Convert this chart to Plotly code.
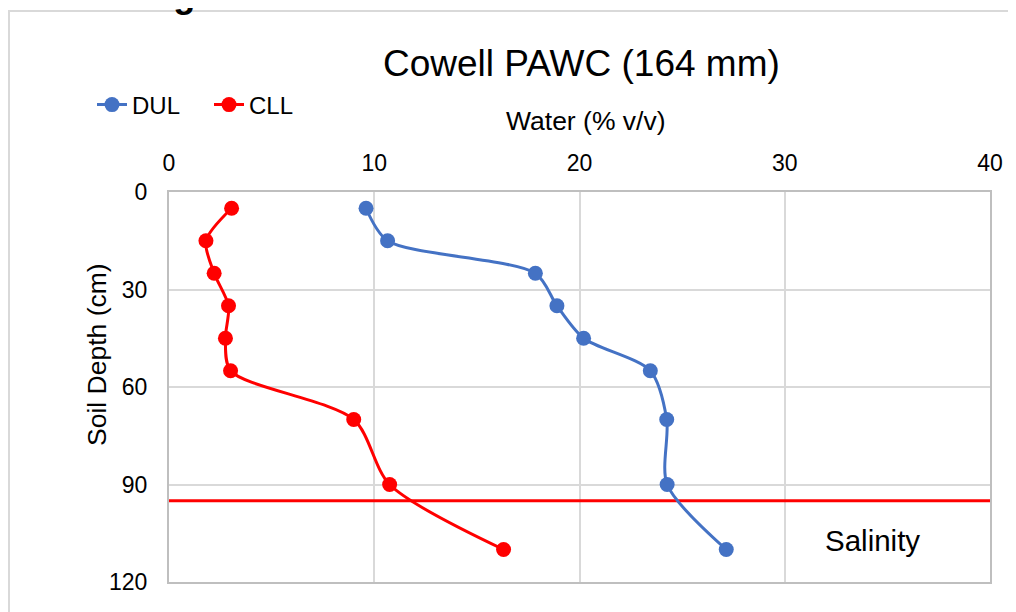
import plotly.graph_objects as go

# Soil depth (cm) of each sampled layer
depth = [5, 15, 25, 35, 45, 55, 70, 90, 110]

# Drained upper limit and crop lower limit, water % v/v
dul = [9.6, 10.65, 17.85, 18.9, 20.2, 23.45, 24.25, 24.27, 27.15]
cll = [3.05, 1.8, 2.2, 2.9, 2.75, 3.0, 9.0, 10.75, 16.3]

# Salinity limit line (depth in cm), drawn across the whole water range
salinity_x = [0, 40]
salinity_y = [95, 95]

x_ticks = [0, 10, 20, 30, 40]
y_ticks = [0, 30, 60, 90, 120]

FONT = "Liberation Sans, Arial, sans-serif"
BLUE = "#4472C4"
RED = "#FF0000"

# the page body adds an 8px margin, so the figure is drawn 8px smaller
OFF = 8
# plot area in screen pixels (used to place the free text)
L, R, T, B = 169, 990, 192, 582


def px(x):
    return (x - L) / (R - L)


def py(y):
    return (B - y) / (B - T)


fig = go.Figure()

fig.add_trace(go.Scatter(
    x=salinity_x, y=salinity_y, mode="lines",
    line=dict(color=RED, width=3),
    showlegend=False, hoverinfo="skip",
))
fig.add_trace(go.Scatter(
    x=dul, y=depth, name="DUL", mode="lines+markers",
    line=dict(color=BLUE, width=3, shape="spline", smoothing=0.8),
    marker=dict(color=BLUE, size=15),
))
fig.add_trace(go.Scatter(
    x=cll, y=depth, name="CLL", mode="lines+markers",
    line=dict(color=RED, width=3, shape="spline", smoothing=0.8),
    marker=dict(color=RED, size=15),
))

fig.update_xaxes(
    range=[0, 40], side="top", tickvals=x_ticks,
    showgrid=True, gridcolor="#d9d9d9", gridwidth=2,
    showline=True, linecolor="#bfbfbf", linewidth=2, mirror=True,
    zeroline=False, ticks="", ticklabelstandoff=10,
    tickfont=dict(family=FONT, size=23, color="#000000"),
)
fig.update_yaxes(
    range=[120, 0], tickvals=y_ticks,
    showgrid=True, gridcolor="#d9d9d9", gridwidth=2,
    showline=True, linecolor="#bfbfbf", linewidth=2, mirror=True,
    zeroline=False, ticks="", ticklabelstandoff=15,
    tickfont=dict(family=FONT, size=23, color="#000000"),
)

annotations = [
    dict(text="Cowell PAWC (164 mm)", x=px(581), y=py(63),
         font=dict(size=37)),
    dict(text="Water (% v/v)", x=px(585.5), y=py(121),
         font=dict(size=26.5)),
    dict(text="Soil Depth (cm)", x=px(97), y=py(355), textangle=-90,
         font=dict(size=26.5)),
    dict(text="Salinity", x=px(872.5), y=py(540.5),
         font=dict(size=29.5)),
    dict(text="<b>PAWC Diagram</b>", x=px(0), y=py(17), xanchor="left",
         yanchor="bottom", font=dict(size=36)),
]
for a in annotations:
    a.setdefault("xanchor", "center")
    a.setdefault("yanchor", "middle")
    a["xref"] = "paper"
    a["yref"] = "paper"
    a["showarrow"] = False
    a["font"].update(family=FONT, color="#000000")

fig.update_layout(
    width=1016 - OFF, height=612 - OFF,
    margin=dict(l=L - OFF, r=1016 - R, t=T - OFF, b=612 - B),
    paper_bgcolor="white", plot_bgcolor="white",
    font=dict(family=FONT, color="#000000"),
    showlegend=True,
    legend=dict(
        orientation="h", x=px(92), y=py(105), xanchor="left",
        yanchor="middle", font=dict(family=FONT, size=24),
        bgcolor="rgba(0,0,0,0)", entrywidth=72,
    ),
    annotations=annotations,
    shapes=[dict(
        type="rect", xref="paper", yref="paper",
        x0=px(9), y0=py(11), x1=px(1100), y1=py(700),
        line=dict(color="#d9d9d9", width=2), layer="below",
    )],
)

fig.write_html("out.html")
